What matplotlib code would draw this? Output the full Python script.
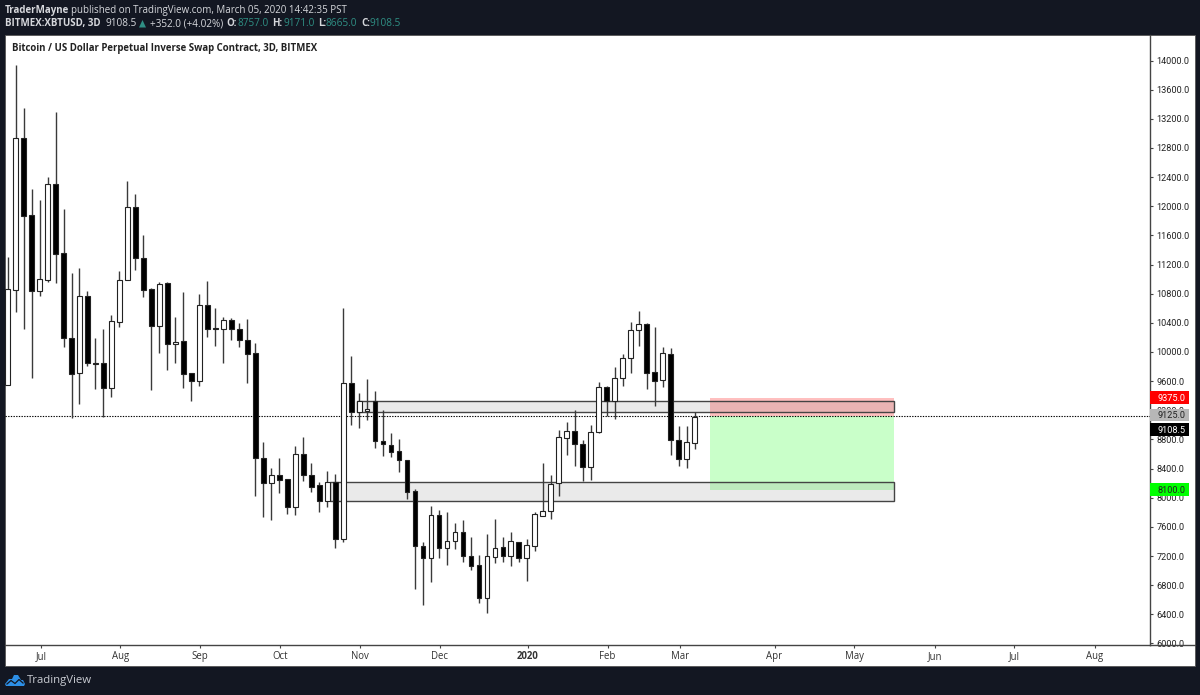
import matplotlib
matplotlib.use("Agg")
import matplotlib.pyplot as plt
from matplotlib.patches import Rectangle, Polygon

# OHLC per 3D bar
opens = [9548, 10851, 12937, 11880, 10837, 10988, 12306, 11359, 10192, 9712,
         10769, 9850, 9850, 9507, 10412, 10988, 11990, 11290, 10865, 10357,
         10947, 10110, 10151, 9712, 9603, 10645, 10330, 10316, 10440, 10316,
         10165, 9987, 8546, 8203, 8313, 8258, 7874, 8601, 8313, 8176,
         7956, 8217, 7435, 9575, 9177, 9191, 9328, 8779, 8725, 8642,
         8519, 8093, 7339, 7174, 7764, 7311, 7407, 7531, 7202, 7078,
         6625, 7188, 7325, 7202, 7394, 7174, 7339, 7750, 7819, 8203,
         8821, 8917, 8738, 8423, 8903, 9520, 9328, 9644, 9918, 10302,
         10385, 9726, 9616, 9973, 8793, 8533, 8757]
highs = [11304, 13938, 13348, 12237, 12086, 12402, 13293, 11962, 11084, 11153,
         10837, 10192, 10316, 10508, 11112, 12347, 12168, 11606, 10879, 10961,
         10961, 10481, 10824, 9712, 10796, 10975, 10604, 10481, 10467, 10398,
         10453, 10124, 8766, 8409, 8546, 8258, 8711, 8834, 8478, 8217,
         8368, 8327, 10604, 9946, 9438, 9630, 9465, 9205, 8889, 8807,
         8519, 8121, 7394, 7888, 7833, 7805, 7654, 7696, 7462, 7215,
         7504, 7709, 7462, 7531, 7394, 7435, 7805, 8478, 8313, 8930,
         9040, 9205, 8793, 8999, 9589, 9534, 9795, 9973, 10412, 10563,
         10398, 10344, 10069, 10055, 8985, 8985, 9171]
lows = [9548, 10549, 10316, 9644, 10769, 10961, 10947, 10069, 9095, 9287,
        9808, 9493, 9109, 9383, 10344, 10988, 11126, 10755, 9479, 9987,
        9754, 9850, 9507, 9328, 9534, 10206, 10083, 9850, 10165, 10069,
        9575, 8025, 7737, 7696, 8066, 7778, 7764, 8231, 8080, 7805,
        7874, 7311, 7394, 8999, 8958, 9068, 8683, 8574, 8560, 8354,
        7984, 6749, 6529, 6845, 7174, 7078, 7298, 7119, 7010, 6557,
        6420, 7106, 7119, 7064, 7119, 6859, 7270, 7750, 7709, 8025,
        8587, 8436, 8231, 8244, 8889, 9122, 9081, 9534, 9712, 10083,
        9493, 9260, 9520, 8587, 8436, 8409, 8665]
closes = [10865, 12937, 11866, 10837, 11002, 12306, 11345, 10192, 9699, 10769,
          9850, 9836, 9507, 10426, 10988, 11990, 11290, 10851, 10357, 10933,
          10110, 10138, 9699, 9603, 10645, 10316, 10316, 10440, 10316, 10165,
          9973, 8546, 8203, 8313, 8244, 7874, 8601, 8313, 8148, 7956,
          8217, 7435, 9575, 9177, 9328, 9219, 8779, 8738, 8629, 8519,
          8080, 7339, 7174, 7764, 7311, 7407, 7531, 7202, 7064, 6625,
          7202, 7311, 7202, 7407, 7174, 7353, 7778, 7819, 8190, 8834,
          8917, 8738, 8423, 8903, 9520, 9328, 9644, 9918, 10302, 10385,
          9712, 9603, 9987, 8793, 8533, 8766, 9108.5]

# axis ticks
month_labels = ["Jul", "Aug", "Sep", "Oct", "Nov", "Dec", "2020", "Feb", "Mar", "Apr", "May", "Jun", "Jul", "Aug"]
month_pos = [4.2, 14.1, 24.1, 34.1, 44.1, 54.1, 65.1, 75.1, 84.2, 96.0, 106.0, 116.1, 126.0, 136.1]
price_ticks = list(range(6000, 14001, 400))

# drawn levels: (bar start, bar end, price low, price high)
zone_upper = (43.7, 110.9, 9170, 9321)
zone_lower = (40.35, 110.9, 7956, 8217)
position_start = 87.9
position_end = 110.9
stop_price = 9375
entry_price = 9125
target_price = 8100
last_price = 9108.5

BG = "#131722"
AXIS_FONT = "Roboto"

fig = plt.figure(figsize=(12, 6.95), dpi=100, facecolor=BG)
plt.rcParams["font.family"] = ["Open Sans", "DejaVu Sans"]

# overlay in pixel coordinates for the screenshot chrome
chrome = fig.add_axes([0, 0, 1, 1], zorder=0)
chrome.set_xlim(0, 1200)
chrome.set_ylim(695, 0)
chrome.axis("off")
chrome.add_patch(Rectangle((5, 35), 1190, 631, facecolor="white", edgecolor="#555555", lw=0.6))

ax = fig.add_axes([5 / 1200, 50.5 / 695, 1145 / 1200, 609.5 / 695], zorder=1)
ax.patch.set_alpha(0)
ax.set_xlim(-0.325, 143.0)
ax.set_ylim(5986, 14350)
for side in ["top", "left"]:
    ax.spines[side].set_visible(False)
for side in ["right", "bottom"]:
    ax.spines[side].set_color("#444444")
    ax.spines[side].set_linewidth(1.0)

ax.yaxis.tick_right()
ax.set_yticks(price_ticks)
ax.set_yticklabels([f"{p:.1f}" for p in price_ticks], fontsize=6.6, color="#222222", family=AXIS_FONT)
ax.tick_params(axis="y", length=2.5, width=0.8, color="#444444", pad=2)
ax.set_xticks(month_pos)
ax.set_xticklabels(month_labels, fontsize=6.9, color="#333333")
ax.tick_params(axis="x", length=2, width=0.8, color="#444444", pad=3)
ax.get_xticklabels()[6].set_fontweight("bold")

# long position boxes
ax.add_patch(Rectangle((position_start, entry_price), position_end - position_start, stop_price - entry_price,
                       facecolor=(1, 0, 0, 0.25), edgecolor="none", zorder=1))
ax.add_patch(Rectangle((position_start, target_price), position_end - position_start, entry_price - target_price,
                       facecolor=(0, 1, 0, 0.21), edgecolor="none", zorder=1))

for x0, x1, low, high in [zone_upper, zone_lower]:
    ax.add_patch(Rectangle((x0, low), x1 - x0, high - low, facecolor=(0.5, 0.5, 0.5, 0.16),
                           edgecolor="#444444", lw=1.0, zorder=2))

ax.axhline(entry_price, color="black", lw=0.8, linestyle=(0, (1.2, 1.2)), zorder=2.5)

# candles
bars = range(len(opens))
ax.vlines(bars, lows, highs, color="#3a3a3a", lw=1.0, zorder=3)
body_bottom = [min(o, c) for o, c in zip(opens, closes)]
body_height = [abs(c - o) for o, c in zip(opens, closes)]
body_color = ["white" if c >= o else "black" for o, c in zip(opens, closes)]
ax.bar(bars, body_height, bottom=body_bottom, width=0.6, color=body_color, edgecolor="#222222", lw=0.8, zorder=4)

# overlay on top for header, price tags and logo
top = fig.add_axes([0, 0, 1, 1], zorder=2)
top.set_xlim(0, 1200)
top.set_ylim(695, 0)
top.axis("off")
top.patch.set_alpha(0)

top.plot([1150, 1195], [644.5, 644.5], color="#444444", lw=1.0)

def price_tag(y0, y1, color, label, txt_color):
    top.add_patch(Rectangle((1150, y0), 39, y1 - y0, facecolor=color, edgecolor="none"))
    top.text(1157, (y0 + y1) / 2, label, color=txt_color, fontsize=6.6, family=AXIS_FONT, ha="left", va="center_baseline")

price_tag(391, 404, "#ff0000", f"{stop_price:.1f}", "white")
price_tag(409, 421, "#b7b7b7", f"{entry_price:.1f}", "#222222")
price_tag(423, 436, "#000000", f"{last_price:.1f}", "white")
price_tag(483, 496, "#00ff00", f"{target_price:.1f}", "#222222")

top.text(12, 48, "Bitcoin / US Dollar Perpetual Inverse Swap Contract, 3D, BITMEX", fontsize=6.9,
         fontweight="bold", color="#222222", va="center")

LIGHT = "#d6d8dc"
TEAL = "#2f8f84"
top.text(5, 10, "TraderMayne", fontsize=7.0, fontweight="bold", color=LIGHT, va="center")
top.text(71, 10, "published on TradingView.com, March 05, 2020 14:42:35 PST", fontsize=7.0, color=LIGHT, va="center")
top.text(5, 23.5, "BITMEX:XBTUSD, 3D", fontsize=7.0, fontweight="bold", color=LIGHT, va="center")
top.text(105, 23.5, "9108.5", fontsize=7.2, color=LIGHT, va="center")
top.add_patch(Polygon([(139, 27.5), (146, 27.5), (142.5, 20)], facecolor=TEAL, edgecolor="none"))
top.text(150, 23.5, "+352.0 (+4.02%)", fontsize=7.2, color=LIGHT, va="center")
for lab, lx, val, vx in [("O:", 226, "8757.0", 238), ("H:", 272, "9171.0", 283),
                         ("L:", 318, "8665.0", 326), ("C:", 361, "9108.5", 370)]:
    top.text(lx, 23.5, lab, fontsize=7.0, fontweight="bold", color=LIGHT, va="center")
    top.text(vx, 23.5, val, fontsize=7.2, color=TEAL, va="center")

# logo
top.add_patch(Polygon([(5, 684), (9, 679), (12, 679), (14, 675), (18, 675), (21, 680), (23, 680), (25, 684), (24, 686), (6, 686)],
                      facecolor="#2d8fe6", edgecolor="none"))
top.plot([7, 11, 15, 19, 23], [684, 680.5, 683.5, 679.5, 683], color=BG, lw=0.9)
top.text(27, 680.5, "TradingView", fontsize=8.2, color="#c9ccd2", va="center")

fig.savefig("out.png", dpi=100, facecolor=BG)
